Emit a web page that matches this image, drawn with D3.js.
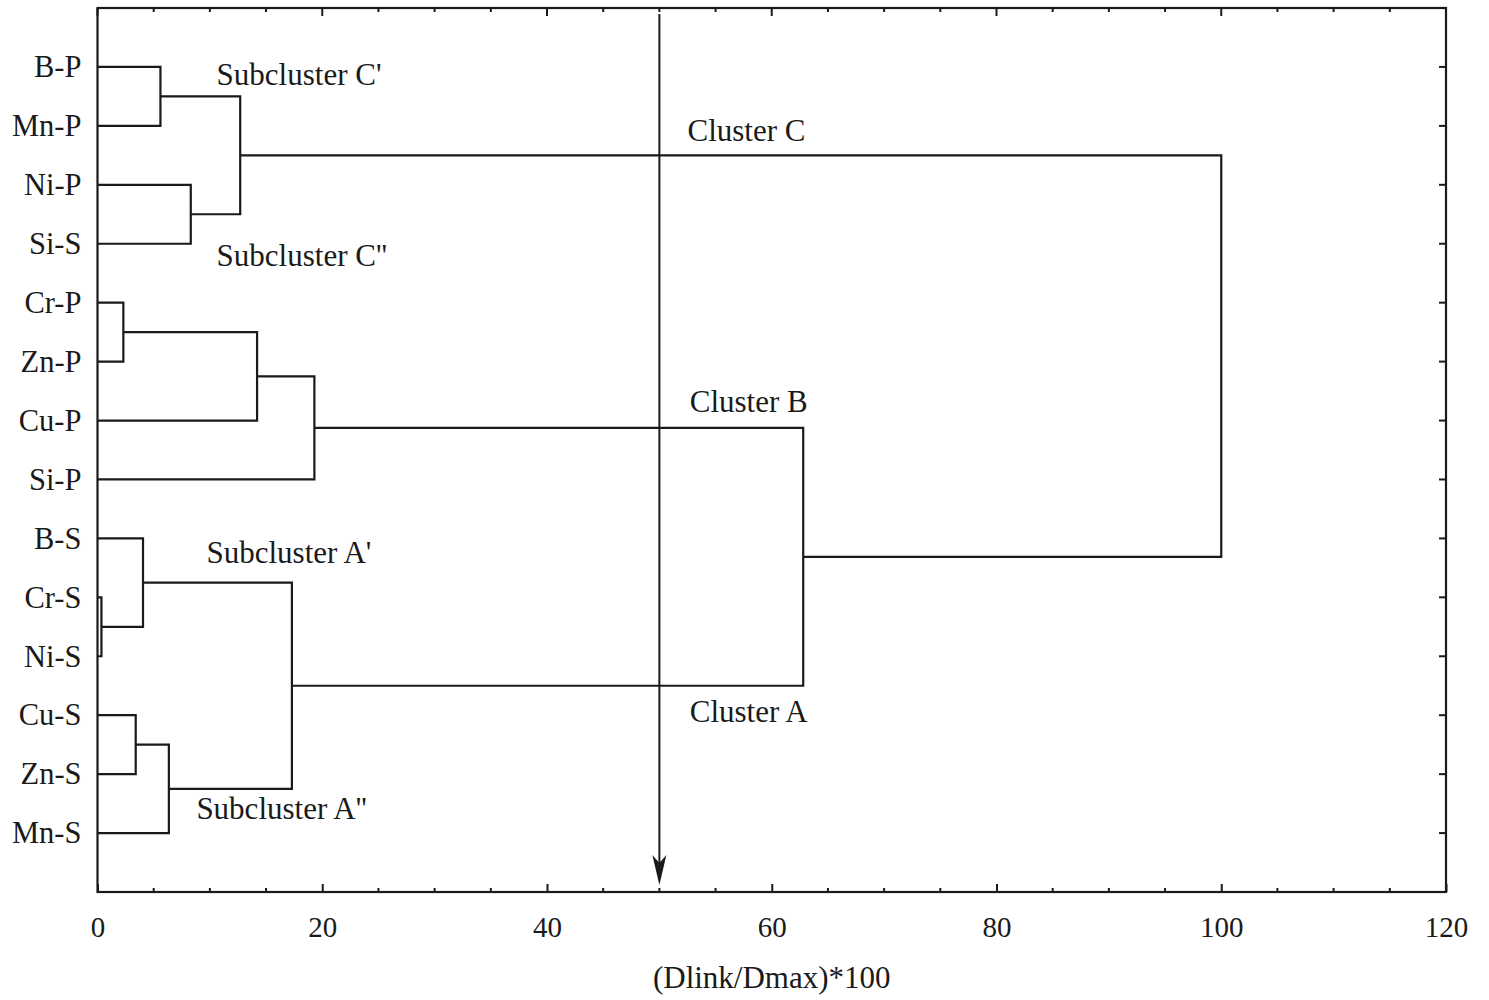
<!DOCTYPE html>
<html><head><meta charset="utf-8">
<script src="https://cdn.jsdelivr.net/npm/d3@7"></script>
<style>body{margin:0;background:#fff}svg{display:block}text{font-family:"Liberation Serif","Times New Roman",serif;fill:#1a1a1a}</style>
</head><body><svg id="c" width="1489" height="1000"></svg>
<script>
const leaves = ["B-P","Mn-P","Ni-P","Si-S","Cr-P","Zn-P","Cu-P","Si-P","B-S","Cr-S","Ni-S","Cu-S","Zn-S","Mn-S"];
// merges: [childA, childB, height]; indices < 14 are leaves, >= 14 are earlier merges
const merges = [
  [0,1,5.6],[2,3,8.3],[14,15,12.7],
  [4,5,2.3],[17,6,14.2],[18,7,19.3],
  [9,10,0.35],[8,20,4.05],[11,12,3.4],[22,13,6.35],[21,23,17.3],
  [19,24,62.8],[16,25,100]
];
const xTicks = [0,20,40,60,80,100,120];
const xMinor = d3.range(0,121,5);
const annotations = [
  {text:"Subcluster C'", x:10.6, y:1.12},
  {text:"Subcluster C''", x:10.6, y:4.2},
  {text:"Cluster C", x:52.5, y:2.07},
  {text:"Cluster B", x:52.7, y:6.67},
  {text:"Cluster A", x:52.7, y:11.93},
  {text:"Subcluster A'", x:9.7, y:9.23},
  {text:"Subcluster A''", x:8.8, y:13.58}
];
const cutX = 50, xTitle = "(Dlink/Dmax)*100";

const svg = d3.select("#c");
const L=97.5, R=1446, T=8, B=892;
const x = d3.scaleLinear().domain([0,120]).range([L,R]);
const y = d3.scaleLinear().domain([0,15]).range([T,B]);
const ink="#1a1a1a";

// node positions
const nodes = leaves.map((n,i)=>({h:0, pos:i+1}));
merges.forEach(m=>{
  const a=nodes[m[0]], b=nodes[m[1]];
  nodes.push({h:m[2], pos:(a.pos+b.pos)/2, a, b});
});
const g = svg.append("g");
nodes.filter(n=>n.a).forEach(n=>{
  g.append("path")
   .attr("d",`M${x(n.a.h)},${y(n.a.pos)}H${x(n.h)}V${y(n.b.pos)}H${x(n.b.h)}`)
   .attr("fill","none").attr("stroke",ink).attr("stroke-width",2.2);
});

// frame
svg.append("rect").attr("x",L).attr("y",T).attr("width",R-L).attr("height",B-T)
  .attr("fill","none").attr("stroke",ink).attr("stroke-width",2.2);

// bottom axis
const bax = svg.append("g").attr("transform",`translate(0,${B})`)
  .call(d3.axisBottom(x).tickValues(xTicks).tickSize(-8).tickPadding(24).tickFormat(d3.format("d")));
bax.select(".domain").remove();
bax.selectAll("text").attr("font-size",29).attr("font-family","Liberation Serif").attr("fill",ink);
bax.selectAll("line").attr("stroke",ink).attr("stroke-width",2);
// minor ticks bottom & top
[[B,-1],[T,1]].forEach(([yy,dir])=>{
  svg.append("g").selectAll("line").data(xMinor.filter(v=>v%20!==0)).join("line")
    .attr("x1",d=>x(d)).attr("x2",d=>x(d)).attr("y1",yy).attr("y2",yy+dir*4)
    .attr("stroke",ink).attr("stroke-width",2);
});
svg.append("g").selectAll("line").data(xTicks).join("line")
  .attr("x1",d=>x(d)).attr("x2",d=>x(d)).attr("y1",T).attr("y2",T+8)
  .attr("stroke",ink).attr("stroke-width",2);

// left axis labels
const lax = svg.append("g").attr("transform",`translate(${L},0)`)
  .call(d3.axisLeft(y).tickValues(d3.range(1,15)).tickSize(0).tickPadding(16).tickFormat(d=>leaves[d-1]));
lax.select(".domain").remove();
lax.selectAll("text").attr("font-size",30.5).attr("font-family","Liberation Serif").attr("fill",ink);
// right ticks
svg.append("g").selectAll("line").data(d3.range(1,15)).join("line")
  .attr("x1",R).attr("x2",R-7).attr("y1",d=>y(d)).attr("y2",d=>y(d))
  .attr("stroke",ink).attr("stroke-width",2);

// annotations
svg.append("g").selectAll("text").data(annotations).join("text")
  .attr("x",d=>x(d.x)).attr("y",d=>y(d.y)).attr("dy","0.35em")
  .attr("font-size",31).text(d=>d.text);

// cut line with arrow
const ax = x(cutX);
svg.append("line").attr("x1",ax).attr("x2",ax).attr("y1",y(0.1)).attr("y2",y(14.6))
  .attr("stroke",ink).attr("stroke-width",2);
const tip=y(14.88);
svg.append("path").attr("d",`M${ax},${tip}L${ax-7},${tip-30}L${ax},${tip-22}L${ax+7},${tip-30}Z`).attr("fill",ink);

// x title
svg.append("text").attr("x",x(60)).attr("y",988).attr("text-anchor","middle")
  .attr("font-size",31).text(xTitle);
</script></body></html>
